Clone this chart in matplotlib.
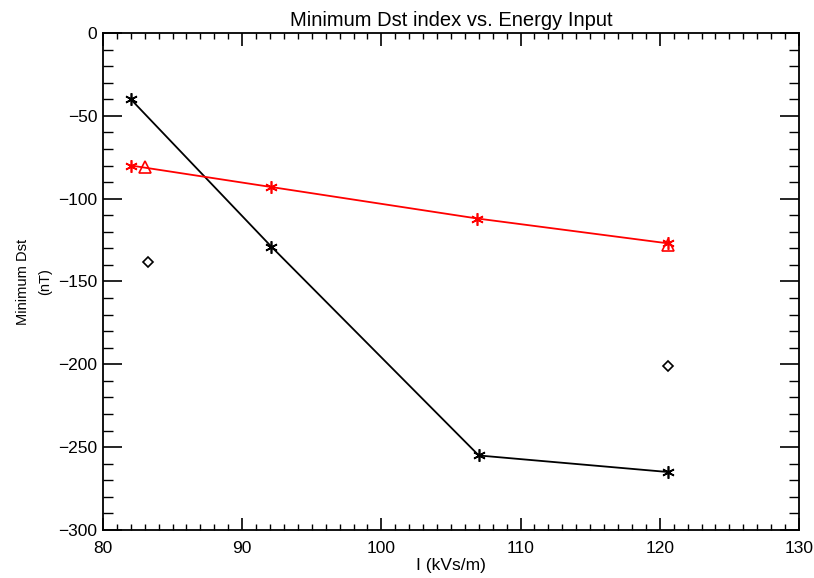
import matplotlib
matplotlib.use("Agg")
import matplotlib.pyplot as plt
from matplotlib.ticker import MultipleLocator

plt.rcParams['font.family'] = ['Liberation Sans', 'DejaVu Sans']

# dati
x_black = [82.0, 92.1, 107.0, 120.6]
dst_black = [-40, -129, -255, -265]

x_red = [82.0, 92.1, 106.9, 120.6]
dst_red = [-80, -93, -112, -127]

x_tri = [83.0, 120.6]
dst_tri = [-81, -128]

x_diam = [83.2, 120.6]
dst_diam = [-138, -201]

fig = plt.figure(figsize=(8.14, 5.78), dpi=100)
ax = fig.add_axes([0.1265, 0.083, 0.855, 0.86])

star = (6, 2, 0)
ax.plot(x_black, dst_black, color="black", lw=1.3, marker=star, ms=9, mew=1.2)
ax.plot(x_red, dst_red, color="red", lw=1.3, marker=star, ms=9, mew=1.2)
ax.plot(x_tri, dst_tri, ls="none", marker="^", ms=8, mfc="none", mec="red", mew=1.2)
ax.plot(x_diam, dst_diam, ls="none", marker="D", ms=5.5, mfc="none", mec="black", mew=1.2)

ax.set_xlim(80, 130)
ax.set_ylim(-300, 0)
ax.xaxis.set_major_locator(MultipleLocator(10))
ax.xaxis.set_minor_locator(MultipleLocator(1))
ax.yaxis.set_major_locator(MultipleLocator(50))
ax.yaxis.set_minor_locator(MultipleLocator(10))

ax.tick_params(axis="x", which="major", direction="in", top=True, length=9, width=1.2, labelsize=12.5, pad=8)
ax.tick_params(axis="x", which="minor", direction="in", top=True, length=4, width=1.0)
ax.tick_params(axis="y", which="major", direction="in", right=True, length=14, width=1.2, labelsize=12.5, pad=4)
ax.tick_params(axis="y", which="minor", direction="in", right=True, length=7, width=1.0)
for s in ax.spines.values():
    s.set_linewidth(1.3)

ax.set_title("Minimum Dst index vs. Energy Input", fontsize=14.5, pad=5)
ax.set_xlabel("I (kVs/m)", fontsize=12.5, labelpad=1)
ax.set_ylabel("Minimum Dst\n(nT)", fontsize=10.5, labelpad=4, linespacing=1.8)

fig.savefig("out.png", dpi=100)
